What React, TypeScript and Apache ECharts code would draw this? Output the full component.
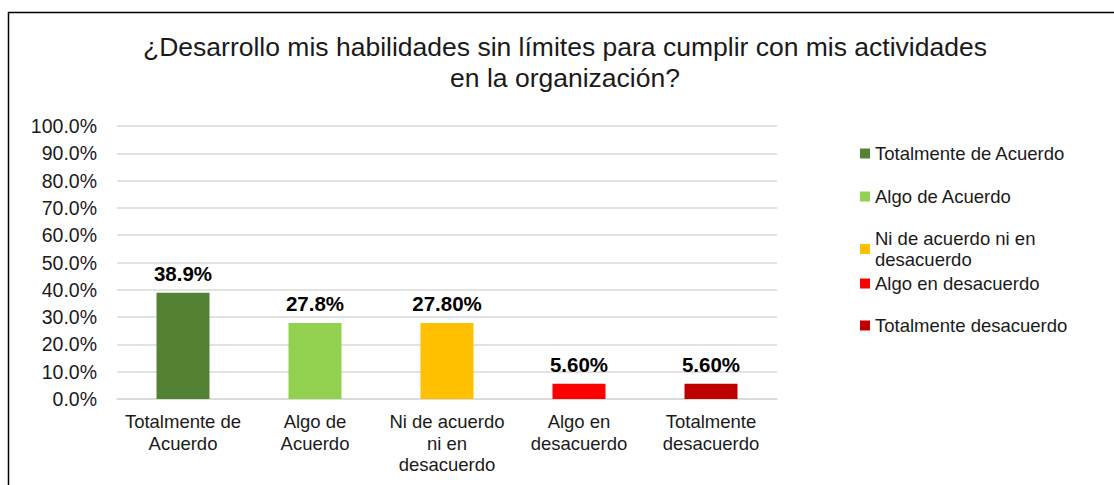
import React, { useEffect, useRef } from "react";
import * as echarts from "echarts";

const titleText = "¿Desarrollo mis habilidades sin límites para cumplir con mis actividades\nen la organización?";
const categories = [
  "Totalmente de Acuerdo",
  "Algo de Acuerdo",
  "Ni de acuerdo ni en desacuerdo",
  "Algo en desacuerdo",
  "Totalmente desacuerdo",
];
const tickLabels = [
  "Totalmente de\nAcuerdo",
  "Algo de\nAcuerdo",
  "Ni de acuerdo\nni en\ndesacuerdo",
  "Algo en\ndesacuerdo",
  "Totalmente\ndesacuerdo",
];
const values = [38.9, 27.8, 27.8, 5.6, 5.6];
const valueLabels = ["38.9%", "27.8%", "27.80%", "5.60%", "5.60%"];
const legendLabels = [
  "Totalmente de Acuerdo",
  "Algo de Acuerdo",
  "Ni de acuerdo ni en\ndesacuerdo",
  "Algo en desacuerdo",
  "Totalmente desacuerdo",
];
const colors = ["#548235", "#92d050", "#ffc000", "#ff0000", "#c00000"];
const legendTops = [143, 186, 229, 273, 315];

const FONT = "'Liberation Sans', Arial, sans-serif";

export default function App() {
  const ref = useRef<HTMLDivElement>(null);
  useEffect(() => {
    if (!ref.current) return;
    const chart = echarts.init(ref.current, null, { renderer: "svg" });
    const series = categories.map((name, i) => ({
      type: "bar",
      name,
      barWidth: 53,
      barGap: "-100%",
      itemStyle: { color: colors[i] },
      data: values.map((v, j) => (j === i ? v : null)),
      label: {
        show: true,
        position: "top",
        distance: 9,
        formatter: () => valueLabels[i],
        fontSize: 20.5,
        fontWeight: "bold",
        color: "#000",
        fontFamily: FONT,
      },
    }));
    const legends = categories.map((name, i) => {
      const lines = legendLabels[i].split("\n").length;
      return {
        left: 860,
        top: legendTops[i],
        padding: 0,
        orient: "vertical",
        icon: "rect",
        itemWidth: 10,
        itemHeight: 10,
        itemGap: 0,
        selectedMode: false,
        data: [name],
        formatter: () => legendLabels[i],
        textStyle: {
          fontSize: 18.5,
          lineHeight: 21,
          color: "#1a1a1a",
          fontFamily: FONT,
          padding: [0, 0, -(lines - 1) * 21, 0],
        },
      };
    });
    chart.setOption({
      animation: false,
      textStyle: { fontFamily: FONT },
      title: {
        text: titleText,
        left: 565,
        top: 31,
        padding: 0,
        textAlign: "center",
        textStyle: {
          fontSize: 26.5,
          fontWeight: "normal",
          color: "#1a1a1a",
          lineHeight: 31,
          fontFamily: FONT,
        },
      },
      legend: legends,
      grid: { left: 117, right: 337, top: 126, bottom: 86, containLabel: false },
      xAxis: {
        type: "category",
        data: categories,
        axisTick: { show: false },
        axisLine: { lineStyle: { color: "#d9d9d9", width: 1.5 } },
        axisLabel: {
          interval: 0,
          margin: 12,
          fontSize: 18.5,
          lineHeight: 21.5,
          color: "#1a1a1a",
          fontFamily: FONT,
          formatter: (_v: string, idx: number) => tickLabels[idx],
        },
      },
      yAxis: {
        type: "value",
        min: 0,
        max: 100,
        interval: 10,
        axisLine: { show: false },
        axisTick: { show: false },
        splitLine: { lineStyle: { color: "#d9d9d9", width: 1.5 } },
        axisLabel: {
          margin: 20,
          fontSize: 19.5,
          color: "#1a1a1a",
          fontFamily: FONT,
          formatter: (v: number) => v.toFixed(1) + "%",
        },
      },
      graphic: [
        {
          type: "rect",
          shape: { x: 8.5, y: 12.5, width: 1300, height: 700 },
          style: { fill: "none", stroke: "#000", lineWidth: 1.5 },
          silent: true,
        },
      ],
      series,
    });
    return () => chart.dispose();
  }, []);
  return (
    <div
      ref={ref}
      style={{ position: "fixed", left: 0, top: 0, width: 1114, height: 485, background: "#fff" }}
    />
  );
}
